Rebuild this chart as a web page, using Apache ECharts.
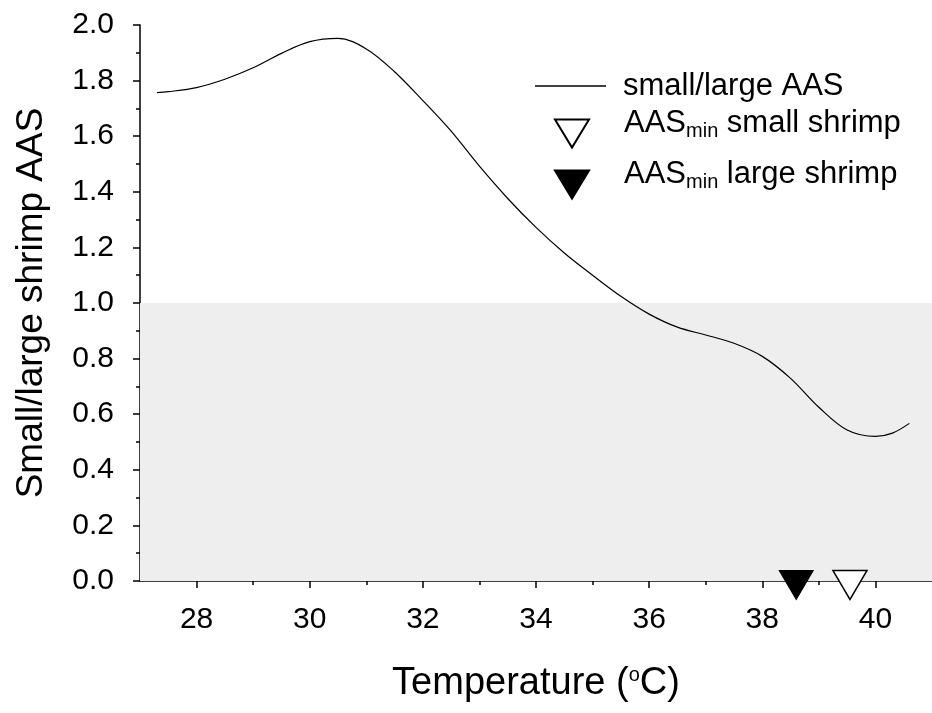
<!DOCTYPE html>
<html>
<head>
<meta charset="utf-8">
<script src="https://cdn.jsdelivr.net/npm/echarts@6/dist/echarts.min.js"></script>
<style>
html,body{margin:0;padding:0;background:#fff;}
#chart{width:932px;height:713px;}
</style>
</head>
<body>
<div id="chart"></div>
<script>
// Temperature (°C) and small/large shrimp AAS ratio
const temps = [27.3, 27.5, 28.0, 28.5, 29.0, 29.5, 30.0, 30.5, 31.0, 31.5, 32.0, 32.5, 33.0, 33.5, 34.0, 34.5, 35.0, 35.5, 36.0, 36.5, 37.0, 37.5, 38.0, 38.5, 39.0, 39.5, 40.0, 40.3, 40.6];
const ratios = [1.757, 1.760, 1.775, 1.805, 1.846, 1.898, 1.940, 1.952, 1.914, 1.832, 1.728, 1.618, 1.492, 1.376, 1.272, 1.180, 1.100, 1.024, 0.960, 0.913, 0.885, 0.855, 0.808, 0.729, 0.625, 0.543, 0.520, 0.532, 0.567];

// AAS_min temperatures
const smallMinT = [39.55];
const largeMinT = [38.6];
const markerY = [0];

// Shaded band (ratio below 1)
const bandY = [0, 1];

// Axis ticks
const xMin = 27, xMax = 41;
const xMajorTicks = [28, 30, 32, 34, 36, 38, 40];
const xMinorTicks = [29, 31, 33, 35, 37, 39];
const yMin = 0, yMax = 2, yInterval = 0.2;

// Labels
const seriesNames = ['small/large AAS', 'AAS_min small shrimp', 'AAS_min large shrimp'];
const yTitle = 'Small/large shrimp AAS';

const FONT = 'Arial, "Liberation Sans", sans-serif';
const triPath = 'path://M0,0 L34,0 L17,28 Z';

const curveData = temps.map((t, i) => [t, ratios[i]]);
const smallData = smallMinT.map((t, i) => [t, markerY[i]]);
const largeData = largeMinT.map((t, i) => [t, markerY[i]]);

const legendRich = {
  a: { fontSize: 31, fontFamily: FONT, color: '#000', lineHeight: 36 },
  s: { fontSize: 20, fontFamily: FONT, color: '#000', lineHeight: 12, verticalAlign: 'bottom' }
};
function minFormatter(name) {
  const rest = name.replace('AAS_min', '');
  return '{a|AAS}{s|min}{a|' + rest + '}';
}

const chart = echarts.init(document.getElementById('chart'), null, { renderer: 'canvas' });
chart.setOption({
  animation: false,
  backgroundColor: '#fff',
  grid: { left: 140, right: 0, top: 25, bottom: 132, containLabel: false },
  xAxis: [
    {
      type: 'value', min: xMin, max: xMax, position: 'bottom',
      name: '{t|Temperature (}{u|o}{t|C)}',
      nameLocation: 'middle', nameGap: 84,
      nameTextStyle: {
        rich: {
          t: { fontSize: 38, fontFamily: FONT, color: '#000', lineHeight: 38 },
          u: { fontSize: 20, fontFamily: FONT, color: '#000', lineHeight: 18, verticalAlign: 'top' }
        }
      },
      axisLine: { show: true, onZero: false, lineStyle: { color: '#000', width: 1.5 } },
      axisTick: { show: true, customValues: xMajorTicks, length: 7, lineStyle: { color: '#000', width: 1.5 } },
      axisLabel: { customValues: xMajorTicks, fontSize: 30, fontFamily: FONT, color: '#000', margin: 24 },
      splitLine: { show: false }
    },
    {
      type: 'value', min: xMin, max: xMax, position: 'bottom', gridIndex: 0,
      axisLine: { show: false },
      axisTick: { show: true, customValues: xMinorTicks, length: 4, lineStyle: { color: '#000', width: 1.5 } },
      axisLabel: { show: false },
      splitLine: { show: false }
    }
  ],
  yAxis: {
    type: 'value', min: yMin, max: yMax, interval: yInterval,
    name: yTitle, nameLocation: 'middle', nameGap: 90, nameRotate: 90,
    nameTextStyle: { fontSize: 37, fontFamily: FONT, color: '#000' },
    axisLine: { show: true, onZero: false, lineStyle: { color: '#000', width: 1.5 } },
    axisTick: { show: true, length: 7, lineStyle: { color: '#000', width: 1.5 } },
    minorTick: { show: true, splitNumber: 2, length: 4, lineStyle: { color: '#000', width: 1.5 } },
    axisLabel: { fontSize: 30, fontFamily: FONT, color: '#000', margin: 26, formatter: v => v.toFixed(1) },
    splitLine: { show: false }
  },
  legend: [
    {
      left: 535, top: 68, padding: 0, itemWidth: 71, itemHeight: 1.5, selectedMode: false,
      data: [{ name: seriesNames[0], icon: 'rect', itemStyle: { color: '#000', borderWidth: 0 } }],
      textStyle: { fontSize: 31, fontFamily: FONT, color: '#000', lineHeight: 36, padding: [0, 0, 0, 12] }
    },
    {
      left: 554, top: 108, padding: 0, itemWidth: 34, itemHeight: 28, selectedMode: false,
      data: [{ name: seriesNames[1], icon: triPath }],
      formatter: minFormatter,
      textStyle: { padding: [0, 0, 20, 30], rich: legendRich }
    },
    {
      left: 554, top: 159, padding: 0, itemWidth: 34, itemHeight: 28, selectedMode: false,
      data: [{ name: seriesNames[2], icon: triPath }],
      formatter: minFormatter,
      textStyle: { padding: [0, 0, 20, 30], rich: legendRich }
    }
  ],
  series: [
    {
      name: 'band', type: 'line', data: [], z: 1, silent: true,
      markArea: {
        silent: true,
        itemStyle: { color: '#eeeeee' },
        data: [[{ xAxis: xMin, yAxis: bandY[0] }, { xAxis: xMax, yAxis: bandY[1] }]]
      }
    },
    {
      name: seriesNames[0], type: 'line', data: curveData, smooth: 0.35,
      symbol: 'none', z: 3,
      lineStyle: { color: '#000', width: 1.2 },
      itemStyle: { color: '#000' }
    },
    {
      name: seriesNames[1], type: 'scatter', data: smallData, z: 5, clip: false,
      symbol: triPath, symbolSize: [34, 29], symbolOffset: [0, 4],
      itemStyle: { color: '#fff', borderColor: '#000', borderWidth: 1.5, opacity: 1 }
    },
    {
      name: seriesNames[2], type: 'scatter', data: largeData, z: 5, clip: false,
      symbol: triPath, symbolSize: [34, 29], symbolOffset: [0, 4],
      itemStyle: { color: '#000', borderColor: '#000', borderWidth: 1, opacity: 1 }
    }
  ]
});
</script>
</body>
</html>
